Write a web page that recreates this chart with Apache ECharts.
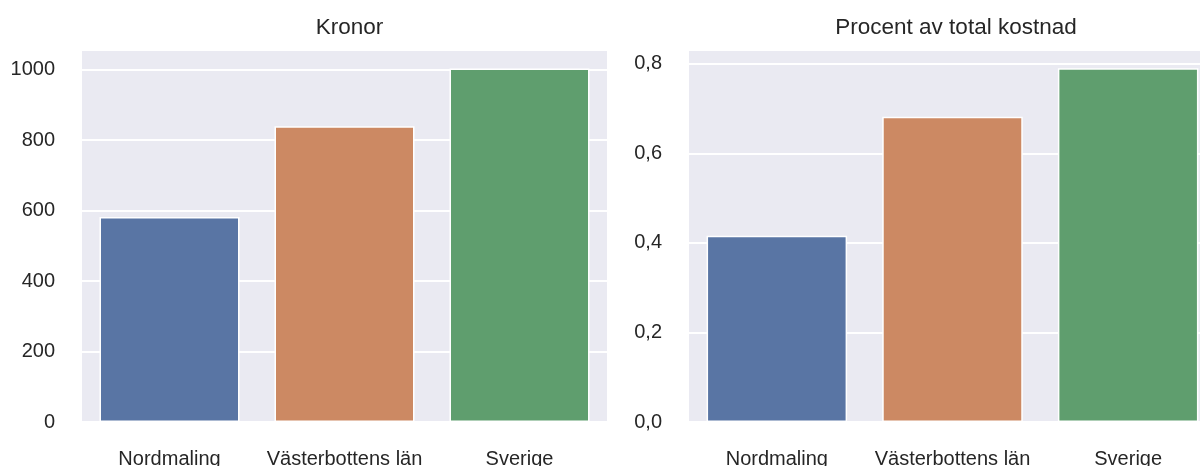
<!DOCTYPE html>
<html>
<head>
<meta charset="utf-8">
<script src="https://cdn.jsdelivr.net/npm/echarts@6/dist/echarts.min.js"></script>
<style>
html,body{margin:0;padding:0;background:#fff;}
#c{width:1200px;height:466px;}
</style>
</head>
<body>
<div id="c"></div>
<script>
const categories = ['Nordmaling', 'Västerbottens län', 'Sverige'];
const kronorValues = [582, 839, 1003];
const procentValues = [0.416, 0.682, 0.790];
const titles = ['Kronor', 'Procent av total kostnad'];
const barColors = ['#5975a4', '#cc8963', '#5f9e6e'];

const textColor = '#262626';
const font = '"Liberation Sans", Arial, sans-serif';
const bg = '#EAEAF2';

function dataWithColors(vals) {
  return vals.map((v, i) => ({ value: v, itemStyle: { color: barColors[i] } }));
}

const chart = echarts.init(document.getElementById('c'), null, { renderer: 'canvas' });

function yAxis(idx, max, interval, nLines, fmt) {
  const colors = [];
  for (let i = 0; i < nLines; i++) colors.push('#ffffff');
  colors.push(bg);
  return {
    type: 'value', gridIndex: idx, min: 0, max: max, interval: interval,
    axisLine: { show: false }, axisTick: { show: false },
    axisLabel: { color: textColor, fontSize: 20, fontFamily: font, margin: 27, showMaxLabel: false, formatter: fmt },
    splitLine: { show: true, lineStyle: { color: colors, width: 2 } }
  };
}

function xAxis(idx) {
  return {
    type: 'category', gridIndex: idx, data: categories,
    axisLine: { show: false }, axisTick: { show: false },
    axisLabel: { color: textColor, fontSize: 20, fontFamily: font, margin: 27, interval: 0 },
    splitLine: { show: false }
  };
}

chart.setOption({
  animation: false,
  backgroundColor: '#ffffff',
  title: [
    { text: titles[0], left: 344.5, top: 11, textAlign: 'center',
      textStyle: { color: textColor, fontSize: 22.5, fontWeight: 'normal', fontFamily: font } },
    { text: titles[1], left: 951, top: 11, textAlign: 'center',
      textStyle: { color: textColor, fontSize: 22.5, fontWeight: 'normal', fontFamily: font } }
  ],
  grid: [
    { left: 82, top: 52, width: 525, bottom: 44, show: true, backgroundColor: bg, borderWidth: 0,
      containLabel: false, outerBoundsMode: 'none' },
    { left: 689, top: 52, width: 527, bottom: 44, show: true, backgroundColor: bg, borderWidth: 0,
      containLabel: false, outerBoundsMode: 'none' }
  ],
  xAxis: [xAxis(0), xAxis(1)],
  yAxis: [
    yAxis(0, 1050, 200, 6, v => String(Math.round(v))),
    yAxis(1, 0.8265, 0.2, 5, v => v.toFixed(1).replace('.', ','))
  ],
  series: [
    { type: 'bar', xAxisIndex: 0, yAxisIndex: 0, data: dataWithColors(kronorValues),
      barCategoryGap: '20%', itemStyle: { borderColor: '#ffffff', borderWidth: 1.5 } },
    { type: 'bar', xAxisIndex: 1, yAxisIndex: 1, data: dataWithColors(procentValues),
      barCategoryGap: '20%', itemStyle: { borderColor: '#ffffff', borderWidth: 1.5 } }
  ]
});
</script>
</body>
</html>
